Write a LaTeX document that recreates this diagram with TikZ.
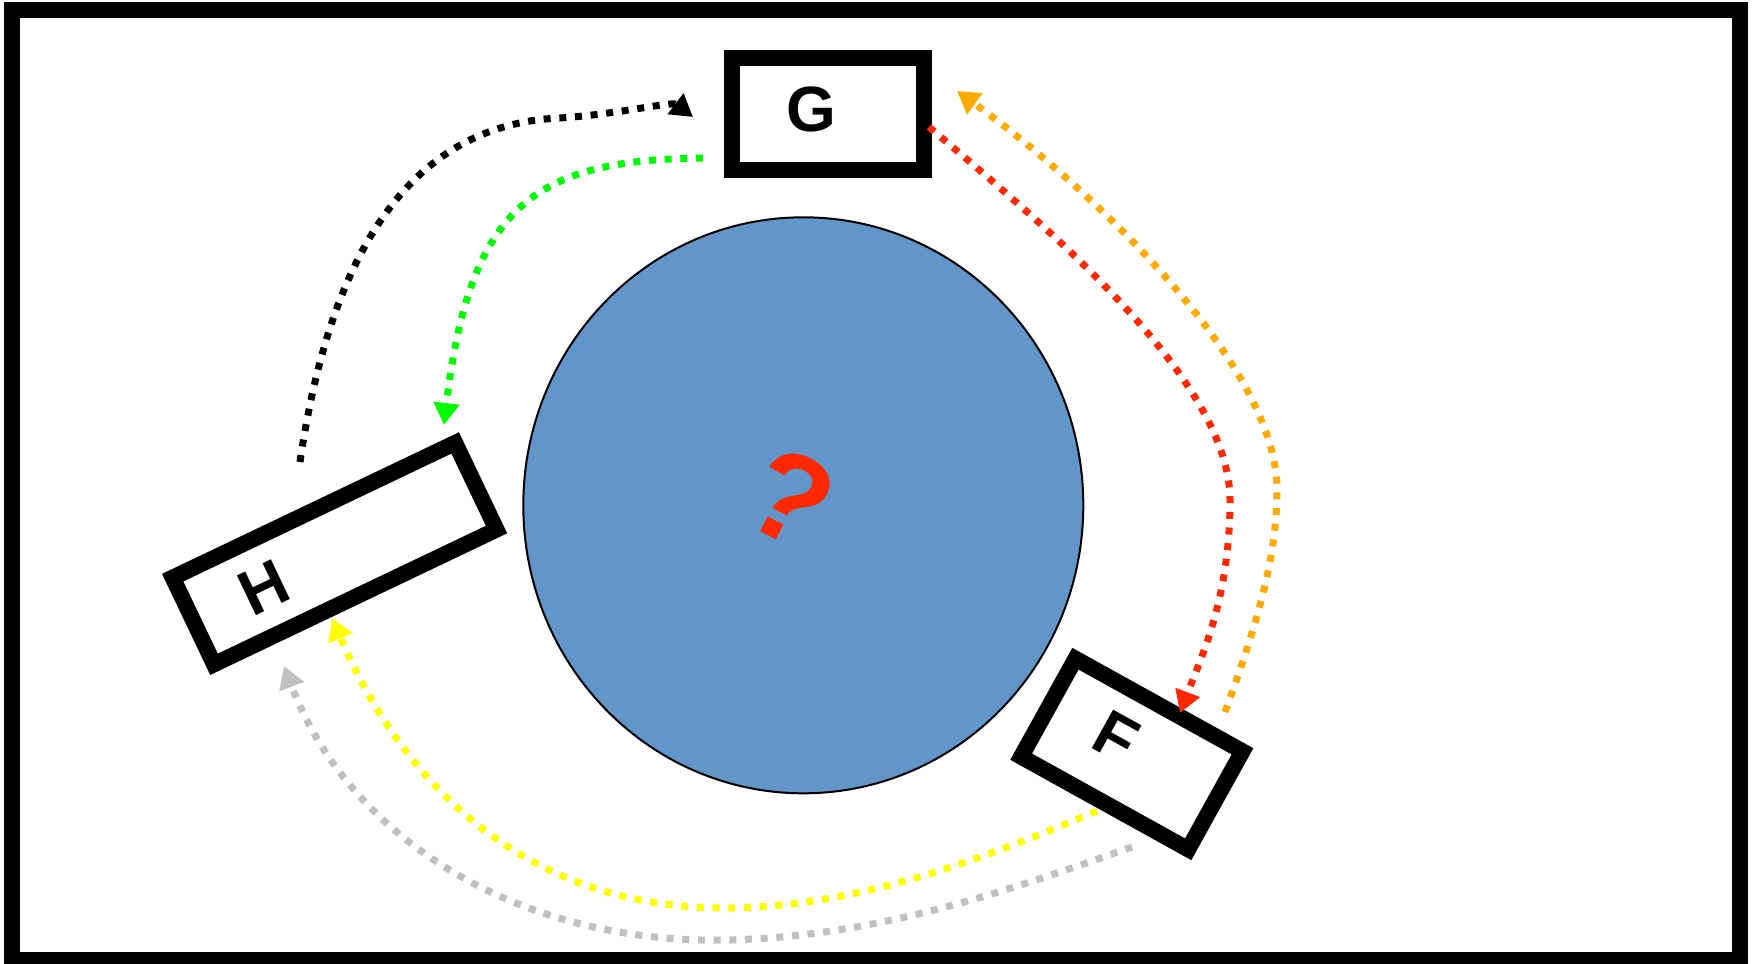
\documentclass[tikz,border=0pt]{standalone}
\usepackage{fontspec}
\setmainfont{Liberation Sans}
\usetikzlibrary{arrows.meta,calc,shapes.geometric}
\definecolor{cblue}{RGB}{98,150,200}
\definecolor{cred}{RGB}{255,40,0}
\definecolor{corange}{RGB}{255,170,0}
\definecolor{cgreen}{RGB}{0,250,0}
\definecolor{cyellow}{RGB}{255,255,0}
\definecolor{cgray}{RGB}{192,192,192}
\begin{document}
\begin{tikzpicture}[x=1pt,y=-1pt,
  box/.style={draw=black,line width=16pt,fill=white,rectangle,inner sep=0pt,
    font=\fontsize{64}{64}\selectfont\bfseries},
  flow/.style={line width=7pt,dash pattern=on 7pt off 8.7pt,
    -{Triangle[length=22pt,width=25pt]}}]
\useasboundingbox (0,0) rectangle (1757,964);
\fill[white] (0,0) rectangle (1757,964);
\draw[line width=16pt] (12,10) rectangle (1740,960);
% central planet
\node[ellipse, draw=black, line width=2pt, fill=cblue, minimum width=560pt, minimum height=576pt, inner sep=0pt] (world) at (803.3,505.3) {};
\node[text=cred, rotate=-27, inner sep=0pt, font=\fontsize{126}{126}\selectfont\bfseries] (q) at (791,498) {?};
% boxes
\node[box, minimum width=192pt, minimum height=112pt] (G) at (828,114) {\raisebox{10pt}{G}\hspace*{34pt}};
\node[box, minimum width=313pt, minimum height=96pt, rotate=25.5] (H) at (334.6,553.6) {H\hspace*{156pt}};
\node[box, minimum width=191pt, minimum height=112pt, rotate=-29] (F) at (1131.8,754) {\raisebox{16pt}{F}\hspace*{44pt}};
% connector ends
\coordinate (bkS) at (300,462);
\coordinate (bkE) at (693,117);
\coordinate (grS) at (703,158);
\coordinate (grE) at (444,425);
\coordinate (rdS) at (929,127);
\coordinate (rdE) at (1180,713);
\coordinate (orS) at (1225,712);
\coordinate (orE) at (957,91);
\coordinate (yeS) at (1097,811);
\coordinate (yeE) at (332,618);
\coordinate (gyS) at (1132,847);
\coordinate (gyE) at (284,666);
% connectors
\draw[flow, black] (bkS) .. controls (325,290) and (390,125) .. (560,118) .. controls (620,114) and (672,101) .. (bkE);
\draw[flow, cgreen] (grS) .. controls (540,160) and (470,200) .. (grE);
\draw[flow, cred] (rdS) .. controls (1050,230) and (1230,380) .. (1230,500) .. controls (1230,600) and (1200,660) .. (rdE);
\draw[flow, corange] (orS) .. controls (1255,630) and (1277,560) .. (1277,490) .. controls (1277,360) and (1080,180) .. (orE);
\draw[flow, cyellow] (yeS) .. controls (980,860) and (860,906) .. (730,908) .. controls (540,910) and (410,800) .. (yeE);
\draw[flow, cgray] (gyS) .. controls (1010,890) and (880,936) .. (730,940) .. controls (520,945) and (350,840) .. (gyE);
\end{tikzpicture}
\end{document}
